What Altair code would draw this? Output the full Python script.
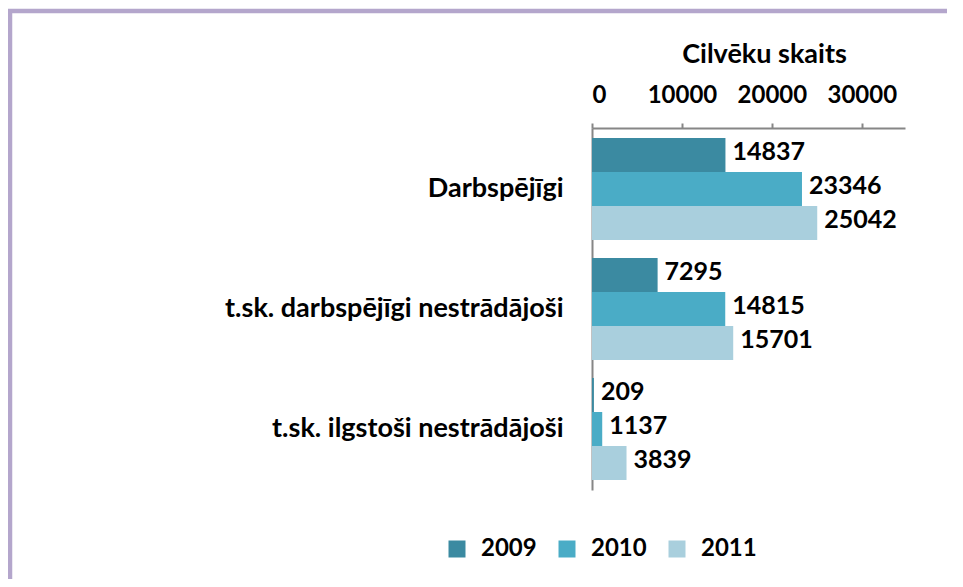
import altair as alt
import pandas as pd

categories = ["Darbspējīgi", "t.sk. darbspējīgi nestrādājoši", "t.sk. ilgstoši nestrādājoši"]
years = ["2009", "2010", "2011"]
v2009 = [14837, 7295, 209]
v2010 = [23346, 14815, 1137]
v2011 = [25042, 15701, 3839]
x_ticks = [0, 10000, 20000, 30000]
colors = ["#3b8aa1", "#4aacc6", "#a9cfdd"]

rows = []
for yr, vals in zip(years, [v2009, v2010, v2011]):
    for c, v in zip(categories, vals):
        rows.append({"cat": c, "year": yr, "value": v})
df = pd.DataFrame(rows)

FONT = "Lato"
GRAY = "#868686"

y_enc = alt.Y("cat:N", sort=categories,
              scale=alt.Scale(paddingInner=0.15, paddingOuter=0.083),
              axis=alt.Axis(title=None, ticks=False, domainColor=GRAY, domainWidth=2,
                            labelFont=FONT, labelFontSize=27, labelFontWeight="bold",
                            labelColor="black", labelPadding=29, labelLimit=0))
yoff_enc = alt.YOffset("year:N", sort=years, scale=alt.Scale(paddingInner=0, paddingOuter=0))
x_enc = alt.X("value:Q", scale=alt.Scale(domain=[0, 34800], nice=False),
              axis=alt.Axis(orient="top", values=x_ticks, format="d", grid=False,
                            tickSize=5, tickWidth=2, tickColor=GRAY,
                            domainColor=GRAY, domainWidth=2,
                            labelFont=FONT, labelFontSize=24, labelFontWeight="bold",
                            labelColor="black", labelPadding=16,
                            title="Cilvēku skaits", titleFont=FONT, titleFontSize=27,
                            titleFontWeight="bold", titleColor="black",
                            titleX=172, titleY=-66, titleAlign="center",
                            titleBaseline="alphabetic"))

bars = alt.Chart(df).mark_bar(strokeWidth=0).encode(
    y=y_enc, yOffset=yoff_enc, x=x_enc,
    color=alt.Color("year:N", sort=years,
                    scale=alt.Scale(domain=years, range=colors),
                    legend=alt.Legend(orient="none", legendX=-147, legendY=409,
                                      direction="horizontal", title=None,
                                      symbolType="square", symbolSize=289,
                                      symbolStrokeWidth=0, labelFont=FONT,
                                      labelFontSize=24, labelFontWeight="bold",
                                      labelColor="black", columnPadding=18,
                                      labelOffset=12, padding=0)),
)

labels = alt.Chart(df).mark_text(align="left", baseline="middle", dx=7, dy=-3,
                                 font=FONT, fontSize=25, fontWeight="bold",
                                 color="black").encode(
    y=alt.Y("cat:N", sort=categories), yOffset=alt.YOffset("year:N", sort=years),
    x="value:Q", text=alt.Text("value:Q", format="d"),
)

frame_src = alt.Data(values=[{"k": 1}])
FRAME = "#b4a6cc"
frame_top = alt.Chart(frame_src).mark_rule(color=FRAME, strokeWidth=4.5).encode(
    x=alt.value(-590), x2=alt.value(355), y=alt.value(-117))
frame_left = alt.Chart(frame_src).mark_rule(color=FRAME, strokeWidth=4.5).encode(
    x=alt.value(-582), y=alt.value(-119), y2=alt.value(455))

chart = alt.layer(bars, labels, frame_top, frame_left).properties(
    width=313, height=362,
    autosize=alt.AutoSizeParams(type="none"),
    padding={"left": 584, "top": 120, "right": 50, "bottom": 89},
    background="white",
    view=alt.ViewBackground(stroke="transparent", strokeWidth=0),
).configure_view(strokeWidth=0, stroke="transparent")

chart.save("out.html", embed_options={"renderer": "svg", "actions": False})
